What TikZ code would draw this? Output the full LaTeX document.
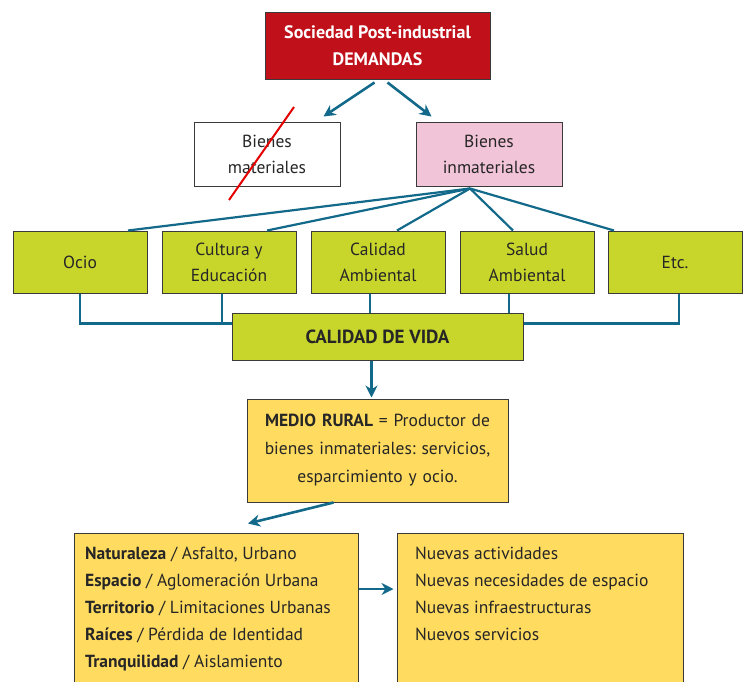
\documentclass[tikz,border=0pt]{standalone}
\usepackage{fontspec}
\setmainfont{PT Sans}
\usepackage{xcolor}
\usetikzlibrary{arrows.meta,calc}
\frenchspacing
\definecolor{rojo}{HTML}{C0111B}
\definecolor{rosa}{HTML}{F2C4D8}
\definecolor{verde}{HTML}{C8D62C}
\definecolor{amarillo}{HTML}{FFDB5F}
\definecolor{azul}{HTML}{12698A}
\definecolor{borde}{HTML}{3A3A3A}
\tikzset{
  caja/.style={draw=borde, line width=1pt, align=center, inner sep=2pt,
    font=\fontsize{17.5}{26}\selectfont, text=black!85},
  tema/.style={caja, fill=verde, minimum width=134, minimum height=62},
  flecha/.style={azul, line width=2.6pt, -{Stealth[length=12pt,width=12pt]}},
  linea/.style={azul, line width=2.2pt}}

\begin{document}
\begin{tikzpicture}[x=1pt,y=-1pt]
\useasboundingbox (0,0) rectangle (745,681);
\node[caja, fill=rojo, text=white, font=\fontsize{18}{27}\selectfont\bfseries,
  minimum width=225, minimum height=67] (demanda) at (377.5,45.5) {Sociedad Post-industrial\\DEMANDAS};
\node[caja, fill=white, minimum width=146, minimum height=64] (materiales) at (267,154) {Bienes\\materiales};
\node[caja, fill=rosa, minimum width=146, minimum height=64] (inmateriales) at (489,154) {Bienes\\inmateriales};

\draw[flecha] ($(demanda.south)+(-3,3)$) -- ($(materiales.north east)+(-17,-5)$);
\draw[flecha] ($(demanda.south)+(10,3)$) -- ($(inmateriales.north west)+(16,-5)$);
\coordinate (tacha1) at ($(materiales.center)+(27,-47)$);
\coordinate (tacha2) at ($(materiales.center)+(-38,46)$);
\draw[red!90!black, line width=2pt] (tacha1) -- (tacha2);

\node[tema] (ocio) at (80,262) {Ocio};
\node[tema] (cultura) at (229,262) {Cultura y\\Educación};
\node[tema] (calidad) at (378,262) {Calidad\\Ambiental};
\node[tema] (salud) at (527,262) {Salud\\Ambiental};
\node[tema] (etc) at (675,262) {Etc.};

\coordinate (abanico) at ($(inmateriales.south)+(-19,2)$);
\draw[linea] (abanico) -- ($(ocio.north)+(48,0)$);
\draw[linea] (abanico) -- ($(cultura.north)+(38,0)$);
\draw[linea] (abanico) -- ($(calidad.north)+(19,0)$);
\draw[linea] (abanico) -- ($(salud.north)+(-14,0)$);
\draw[linea] (abanico) -- ($(etc.north)+(-61,0)$);

\draw[linea] (ocio.south) -- ++(0,30) -| ($(etc.south)+(4,0)$);
\draw[linea] ($(cultura.south)+(-7,0)$) -- ++(0,30);
\draw[linea] ($(calidad.south)+(-8,0)$) -- ++(0,25);
\draw[linea] ($(salud.south)+(-18,0)$) -- ++(0,25);

\node[caja, fill=verde, font=\fontsize{19}{26}\selectfont\bfseries,
  minimum width=291, minimum height=47] (vida) at (377.5,336.5) {CALIDAD DE VIDA};

\node[caja, fill=amarillo, minimum width=261, minimum height=103, text width=255,
  font=\fontsize{17.5}{28}\selectfont]
  (rural) at (377.5,450.5) {\textbf{MEDIO RURAL} = Productor de\\bienes inmateriales: servicios,\\esparcimiento y ocio.};
\draw[flecha] ($(vida.south)+(-6,0)$) -- ($(rural.north)+(-6,-1)$);

\node[caja, fill=amarillo, minimum width=284, minimum height=152] (perdidas) at (216,609) {};
\node[caja, fill=amarillo, minimum width=286, minimum height=152] (nuevas) at (540,609) {};
\draw[flecha] ($(rural.south)+(-44,0)$) -- ($(perdidas.north)+(32,-9)$);
\draw[flecha] ($(perdidas.east)+(0,-20)$) -- ($(nuevas.west)+(-3,-20)$);

\node[anchor=north west, align=left, inner sep=0pt, text=black!85,
  font=\fontsize{17.5}{27}\selectfont] (lista1) at (85,547)
  {\textbf{Naturaleza} / Asfalto, Urbano\\
   \textbf{Espacio} / Aglomeración Urbana\\
   \textbf{Territorio} / Limitaciones Urbanas\\
   \textbf{Raíces} / Pérdida de Identidad\\
   \textbf{Tranquilidad} / Aislamiento};
\node[anchor=north west, align=left, inner sep=0pt, text=black!85,
  font=\fontsize{17.5}{27}\selectfont] (lista2) at (415,547)
  {Nuevas actividades\\
   Nuevas necesidades de espacio\\
   Nuevas infraestructuras\\
   Nuevos servicios};
\end{tikzpicture}
\end{document}
